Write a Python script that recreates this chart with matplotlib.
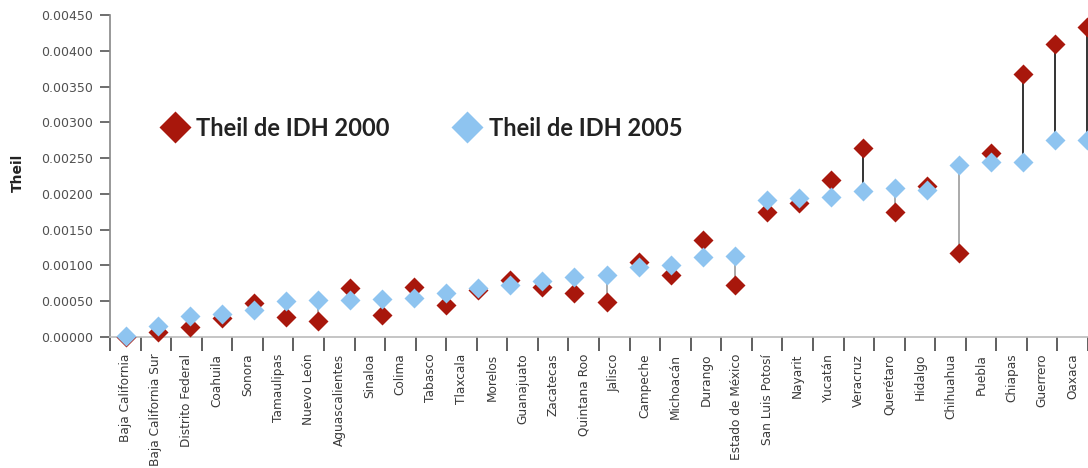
import numpy as np
import matplotlib
matplotlib.use("Agg")
import matplotlib.pyplot as plt
from matplotlib.lines import Line2D

# ---------------- data ----------------
states = ["Baja California", "Baja California Sur", "Distrito Federal", "Coahuila",
          "Sonora", "Tamaulipas", "Nuevo León", "Aguascalientes", "Sinaloa", "Colima",
          "Tabasco", "Tlaxcala", "Morelos", "Guanajuato", "Zacatecas", "Quintana Roo",
          "Jalisco", "Campeche", "Michoacán", "Durango", "Estado de México",
          "San Luis Potosí", "Nayarit", "Yucatán", "Veracruz", "Querétaro", "Hidalgo",
          "Chihuahua", "Puebla", "Chiapas", "Guerrero", "Oaxaca"]

# values in marker order (the last one lies outside the cropped view)
theil_2000 = [0.00000, 0.00007, 0.00014, 0.00026, 0.00047, 0.00028, 0.00023, 0.00069,
              0.00031, 0.00070, 0.00045, 0.00066, 0.00080, 0.00070, 0.00061, 0.00049,
              0.00105, 0.00087, 0.00136, 0.00073, 0.00175, 0.00187, 0.00219, 0.00264,
              0.00174, 0.00211, 0.00118, 0.00257, 0.00367, 0.00410, 0.00433, np.nan]
theil_2005 = [0.00002, 0.00016, 0.00029, 0.00032, 0.00038, 0.00050, 0.00052, 0.00052,
              0.00053, 0.00054, 0.00061, 0.00069, 0.00073, 0.00078, 0.00084, 0.00087,
              0.00098, 0.00100, 0.00112, 0.00113, 0.00192, 0.00194, 0.00196, 0.00204,
              0.00208, 0.00206, 0.00241, 0.00244, 0.00245, 0.00275, 0.00275, np.nan]

yticks = [0.0, 0.0005, 0.0010, 0.0015, 0.0020, 0.0025, 0.0030, 0.0035, 0.0040, 0.0045]
legend_labels = ["Theil de IDH 2000", "Theil de IDH 2005"]
y_label = "Theil"

# ---------------- style ----------------
RED = "#A8170C"
BLUE = "#8EC4F0"
W, H = 1088, 468

fig = plt.figure(figsize=(W / 100, H / 100), dpi=100)
left, right, bottom, top = 110, 1088, 337, 15
ax = fig.add_axes([left / W, (H - bottom) / H, (right - left) / W, (bottom - top) / H])

n = len(states)
ax.set_xlim(-0.5, 31.09)
ax.set_ylim(0, 0.0045)

# category labels at centres, tick marks at boundaries
ax.set_xticks(np.arange(n))
ax.set_xticklabels(states, rotation=90, fontsize=8.7, color="#3a3a3a",
                   family=["DejaVu Sans"])
ax.tick_params(axis="x", which="major", length=0, pad=12)
ax.set_xticks(np.arange(-0.5, n, 1.0), minor=True)
ax.tick_params(axis="x", which="minor", length=10, width=1.2, color="#444444")

ax.set_yticks(yticks)
ax.set_yticklabels([f"{v:.5f}" for v in yticks], fontsize=9, color="#505050")
ax.tick_params(axis="y", length=7, width=1.2, color="#555555", pad=5)

for s in ["top", "right"]:
    ax.spines[s].set_visible(False)
ax.spines["left"].set_color("#888888")
ax.spines["bottom"].set_color("#bbbbbb")
ax.spines["left"].set_linewidth(1.2)
ax.spines["bottom"].set_linewidth(1.2)

ax.set_ylabel(y_label, fontsize=10, fontweight="bold", color="#222222")
ax.yaxis.set_label_coords(-0.087, 0.51)

# marker layer: in the reference the markers sit on a slightly wider category grid
ax2 = ax.twiny()
ax2.set_xlim(-0.5, 30.03)
ax2.axis("off")

xs = np.arange(n)
r = np.array(theil_2000)
b = np.array(theil_2005)
for x, rv, bv in zip(xs, r, b):
    if np.isnan(rv) or np.isnan(bv):
        continue
    col = "#333333" if rv > bv else "#aaaaaa"
    ax2.plot([x, x], [min(rv, bv), max(rv, bv)], color=col, lw=1.4, zorder=1)

ax2.plot(xs, r, linestyle="none", marker="D", ms=10, color=RED, mec="none",
         zorder=2, clip_on=False)
ax2.plot(xs, b, linestyle="none", marker="D", ms=10, color=BLUE, mec="none",
         zorder=3, clip_on=False)
ax2.set_ylim(0, 0.0045)

handles = [Line2D([], [], linestyle="none", marker="D", ms=16, color=RED, mec="none"),
           Line2D([], [], linestyle="none", marker="D", ms=16, color=BLUE, mec="none")]
fig.legend(handles, legend_labels, loc="center left",
           bbox_to_anchor=(163 / W, (H - 128) / H), bbox_transform=fig.transFigure,
           ncol=2, frameon=False, borderpad=0, borderaxespad=0,
           handlelength=1.0, handletextpad=0.4, columnspacing=2.8,
           prop={"family": "Lato", "weight": "bold", "size": 17},
           labelcolor="#222222")

fig.savefig("out.png", dpi=100)
